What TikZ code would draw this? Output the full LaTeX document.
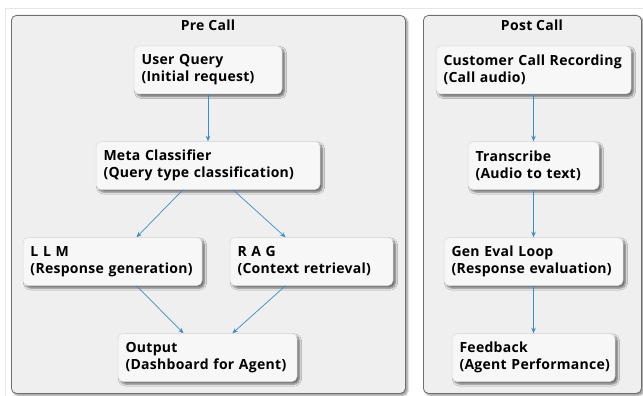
\documentclass[tikz,border=0pt]{standalone}
\usepackage{fontspec}
\setmainfont{Open Sans}[LetterSpace=2]
\usetikzlibrary{arrows.meta,shadows.blur}

\definecolor{panelfill}{HTML}{EFEFEF}
\definecolor{panelline}{HTML}{6E6E6E}
\definecolor{boxfill}{HTML}{F7F7F7}
\definecolor{boxline}{HTML}{DADADA}
\definecolor{flow}{HTML}{3A8BCF}
\definecolor{frameline}{HTML}{E6E6E6}

% two unbreakable lines of a step label
\newcommand{\steplines}[2]{\mbox{#1}\\\mbox{#2}}

\tikzset{
  panel/.style={draw=panelline, line width=0.8pt, fill=panelfill,
    rounded corners=5pt, anchor=north west, inner sep=0pt,
    blur shadow={shadow xshift=2pt, shadow yshift=-2pt,
      shadow blur steps=5, shadow opacity=45}},
  paneltitle/.style={font=\bfseries\fontsize{14}{17}\selectfont, inner sep=0pt},
  stepbox/.style={draw=boxline, line width=0.5pt, fill=boxfill,
    rounded corners=5pt, align=left, inner xsep=7.5pt, inner ysep=0pt,
    minimum height=48pt, text width=#1-15pt,
    font=\bfseries\fontsize{14}{17}\selectfont,
    blur shadow={shadow xshift=2.5pt, shadow yshift=-2.5pt,
      shadow blur steps=5, shadow opacity=55}},
  flowarrow/.style={draw=flow, line width=0.7pt,
    -{Stealth[length=5.5pt,width=4.5pt]}}
}

\begin{document}
\begin{tikzpicture}[x=1pt,y=-1pt]
  \useasboundingbox (0,0) rectangle (643,396);

  % faint page frame
  \draw[frameline, line width=0.8pt] (643,8) -- (5,8) -- (5,396);

  % panels
  \node[panel, minimum width=394pt, minimum height=378pt] (pre) at (11,15) {};
  \node[panel, minimum width=218pt, minimum height=378pt] (post) at (423,15) {};
  \node[paneltitle] (pretitle) at (208,25) {Pre Call};
  \node[paneltitle] (posttitle) at (532,25) {Post Call};

  % pre call steps
  \node[stepbox=148pt] (query) at (208,70)
    {\steplines{User Query}{(Initial request)}};
  \node[stepbox=224pt] (meta) at (208,165.5)
    {\steplines{Meta Classifier}{(Query type classification)}};
  \node[stepbox=179pt] (llm) at (112.5,261.5)
    {\steplines{L L M}{(Response generation)}};
  \node[stepbox=163pt] (rag) at (311.5,261.5)
    {\steplines{R A G}{(Context retrieval)}};
  \node[stepbox=179pt] (out) at (207.5,357.5)
    {\steplines{Output}{(Dashboard for Agent)}};

  % post call steps
  \node[stepbox=195pt] (rec) at (533.5,70)
    {\steplines{Customer Call Recording}{(Call audio)}};
  \node[stepbox=131pt] (trans) at (533.5,165.5)
    {\steplines{Transcribe}{(Audio to text)}};
  \node[stepbox=179pt] (geneval) at (533.5,261.5)
    {\steplines{Gen Eval Loop}{(Response evaluation)}};
  \node[stepbox=163pt] (feed) at (533.5,357.5)
    {\steplines{Feedback}{(Agent Performance)}};

  % pre call flow
  \draw[flowarrow] (query.south) -- (meta.north);
  \draw[flowarrow] ([xshift=-25pt]meta.south) -- ([xshift=24pt]llm.north);
  \draw[flowarrow] ([xshift=25pt]meta.south) -- ([xshift=-26pt]rag.north);
  \draw[flowarrow] ([xshift=24pt]llm.south) -- ([xshift=-24pt]out.north);
  \draw[flowarrow] ([xshift=-26pt]rag.south) -- ([xshift=25pt]out.north);

  % post call flow
  \draw[flowarrow] (rec.south) -- (trans.north);
  \draw[flowarrow] (trans.south) -- (geneval.north);
  \draw[flowarrow] (geneval.south) -- (feed.north);
\end{tikzpicture}
\end{document}
